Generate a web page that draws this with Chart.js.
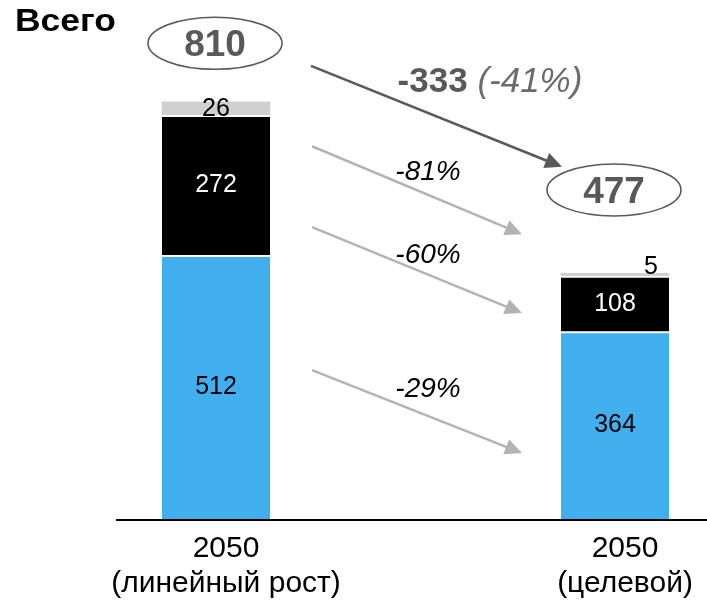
<!DOCTYPE html>
<html>
<head>
<meta charset="utf-8">
<style>
  html, body { margin: 0; padding: 0; background: #ffffff; }
  #wrap { position: relative; width: 707px; height: 603px; }
</style>
<script src="https://cdn.jsdelivr.net/npm/chart.js@4/dist/chart.umd.min.js"></script>
</head>
<body>
<div id="wrap"><canvas id="c" width="707" height="603"></canvas></div>
<script>
// Emissions breakdown, 2050: linear growth vs target scenario
const categories = [['2050', '(линейный рост)'], ['2050', '(целевой)']];
const blueValues = [512, 364];
const blackValues = [272, 108];
const greyValues = [26, 5];
const titleText = 'Всего';

const FONT = "'Liberation Sans', Arial, Helvetica, sans-serif";
const BLUE = '#41AFEE';
const BLACK = '#000000';
const LIGHT = '#D0D0D0';
const ARROW_GREY = '#B3B3B3';
const DARK_GREY = '#595959';

const totals = categories.map((_, i) => blueValues[i] + blackValues[i] + greyValues[i]);
const pct = (a, b) => Math.round((b - a) / a * 100);

// Annotation placement, vertical positions given in axis units
const badgeY = [924, 639];
const totalArrow = { from: 880, to: 684, labelY: 829 };
const segmentArrows = [
  { series: greyValues,  from: 724, to: 553, labelY: 658 },
  { series: blackValues, from: 567, to: 400, labelY: 497 },
  { series: blueValues,  from: 289, to: 128, labelY: 237 }
];

function arrow(ctx, x1, y1, x2, y2, color, width, headLen, headHalf) {
  const ang = Math.atan2(y2 - y1, x2 - x1);
  const bx = x2 - headLen * Math.cos(ang);
  const by = y2 - headLen * Math.sin(ang);
  ctx.save();
  ctx.strokeStyle = color;
  ctx.fillStyle = color;
  ctx.lineWidth = width;
  ctx.beginPath();
  ctx.moveTo(x1, y1);
  ctx.lineTo(bx + Math.cos(ang) * 2, by + Math.sin(ang) * 2);
  ctx.stroke();
  ctx.beginPath();
  ctx.moveTo(x2, y2);
  ctx.lineTo(bx + headHalf * Math.sin(ang), by - headHalf * Math.cos(ang));
  ctx.lineTo(bx - headHalf * Math.sin(ang), by + headHalf * Math.cos(ang));
  ctx.closePath();
  ctx.fill();
  ctx.restore();
}

const overlay = {
  id: 'overlay',
  afterDraw(chart) {
    const ctx = chart.ctx;
    const y = chart.scales.y;
    const area = chart.chartArea;
    const metas = [0, 1, 2].map(i => chart.getDatasetMeta(i));

    // baseline
    ctx.save();
    ctx.strokeStyle = '#000';
    ctx.lineWidth = 2;
    ctx.beginPath();
    ctx.moveTo(116, area.bottom + 1);
    ctx.lineTo(chart.width, area.bottom + 1);
    ctx.stroke();
    ctx.restore();

    // segment values
    const textColors = ['#000', '#fff', '#000'];
    ctx.save();
    ctx.font = '25px ' + FONT;
    metas.forEach((meta, di) => {
      const ds = chart.data.datasets[di];
      meta.data.forEach((bar, i) => {
        const v = ds.data[i];
        const top = bar.y, bottom = bar.base;
        const h = bottom - top;
        ctx.fillStyle = textColors[di];
        ctx.textAlign = 'center';
        if (h < 8) {
          ctx.textBaseline = 'alphabetic';
          ctx.fillText(String(v), bar.x + bar.width / 3, top + 1);
        } else {
          ctx.textBaseline = 'middle';
          ctx.fillText(String(v), bar.x, (top + bottom) / 2);
        }
      });
    });
    ctx.restore();

    const b0 = metas[0].data[0], b1 = metas[0].data[1];
    const x1 = b0.x + b0.width / 2 + 42;
    const xEnd = b1.x - b1.width / 2 - 39;

    // totals in ellipses
    ctx.save();
    totals.forEach((t, i) => {
      const bx = metas[0].data[i].x - 1;
      const cy = y.getPixelForValue(badgeY[i]);
      ctx.beginPath();
      ctx.ellipse(bx, cy, 67, 26, 0, 0, Math.PI * 2);
      ctx.strokeStyle = DARK_GREY;
      ctx.lineWidth = 1.6;
      ctx.stroke();
      ctx.fillStyle = DARK_GREY;
      ctx.font = 'bold 37px ' + FONT;
      ctx.textAlign = 'center';
      ctx.textBaseline = 'alphabetic';
      ctx.fillText(String(t), bx, cy + 13);
    });
    ctx.restore();

    // total change arrow
    arrow(ctx, x1 - 1, y.getPixelForValue(totalArrow.from), b1.x - b1.width / 2 + 1,
          y.getPixelForValue(totalArrow.to), DARK_GREY, 2.5, 17, 8);
    ctx.save();
    const diff = totals[1] - totals[0];
    const t1 = String(diff);
    const t2 = '(' + pct(totals[0], totals[1]) + '%)';
    ctx.font = 'bold 35px ' + FONT;
    const w1 = ctx.measureText(t1).width;
    ctx.font = 'italic 35px ' + FONT;
    const wsp = ctx.measureText(' ').width;
    const w2 = ctx.measureText(t2).width;
    const cx = 490;
    const lx = cx - (w1 + wsp + w2) / 2;
    const ly = y.getPixelForValue(totalArrow.labelY);
    ctx.textAlign = 'left';
    ctx.textBaseline = 'alphabetic';
    ctx.fillStyle = DARK_GREY;
    ctx.font = 'bold 35px ' + FONT;
    ctx.fillText(t1, lx, ly);
    ctx.fillStyle = '#6B6B6B';
    ctx.font = 'italic 35px ' + FONT;
    ctx.fillText(t2, lx + w1 + wsp, ly);
    ctx.restore();

    // per-segment change arrows
    segmentArrows.forEach(a => {
      const ya = y.getPixelForValue(a.from), yb = y.getPixelForValue(a.to);
      arrow(ctx, x1, ya, xEnd, yb, ARROW_GREY, 2.5, 17, 8);
      ctx.save();
      ctx.font = 'italic 28px ' + FONT;
      ctx.fillStyle = '#000';
      ctx.textAlign = 'center';
      ctx.textBaseline = 'alphabetic';
      ctx.fillText(pct(a.series[0], a.series[1]) + '%', (x1 + xEnd) / 2 + 11, y.getPixelForValue(a.labelY));
      ctx.restore();
    });

    // title, widened to its set width
    ctx.save();
    ctx.font = 'bold 31px ' + FONT;
    const tw = ctx.measureText(titleText).width;
    ctx.translate(15, 31);
    ctx.scale(101 / tw, 1);
    ctx.fillStyle = '#000';
    ctx.textAlign = 'left';
    ctx.textBaseline = 'alphabetic';
    ctx.fillText(titleText, 0, 0);
    ctx.restore();
  }
};

const segBorder = { top: 2, left: 0, right: 0, bottom: 0 };

new Chart(document.getElementById('c'), {
  type: 'bar',
  data: {
    labels: categories,
    datasets: [
      { label: 'blue', data: blueValues, backgroundColor: BLUE, borderColor: '#fff', borderWidth: segBorder, borderSkipped: false, barThickness: 108, clip: false },
      { label: 'black', data: blackValues, backgroundColor: BLACK, borderColor: '#fff', borderWidth: segBorder, borderSkipped: false, barThickness: 108, clip: false },
      { label: 'grey', data: greyValues, backgroundColor: LIGHT, borderWidth: 0, barThickness: 108, clip: false }
    ]
  },
  options: {
    responsive: false,
    animation: false,
    devicePixelRatio: 1,
    layout: { padding: { left: 216, right: 92, top: 0, bottom: 0 } },
    plugins: { legend: { display: false }, tooltip: { enabled: false } },
    scales: {
      x: {
        type: 'category',
        offset: false,
        stacked: true,
        grid: { display: false, drawTicks: false },
        border: { display: false },
        ticks: {
          color: '#000',
          font: { family: FONT, size: 30, lineHeight: 1.17 },
          padding: 12,
          labelOffset: 10,
          maxRotation: 0,
          autoSkip: false
        },
        afterFit(scale) { scale.height = 84; }
      },
      y: { stacked: true, display: false, min: 0, max: 1008 }
    }
  },
  plugins: [overlay]
});
</script>
</body>
</html>
